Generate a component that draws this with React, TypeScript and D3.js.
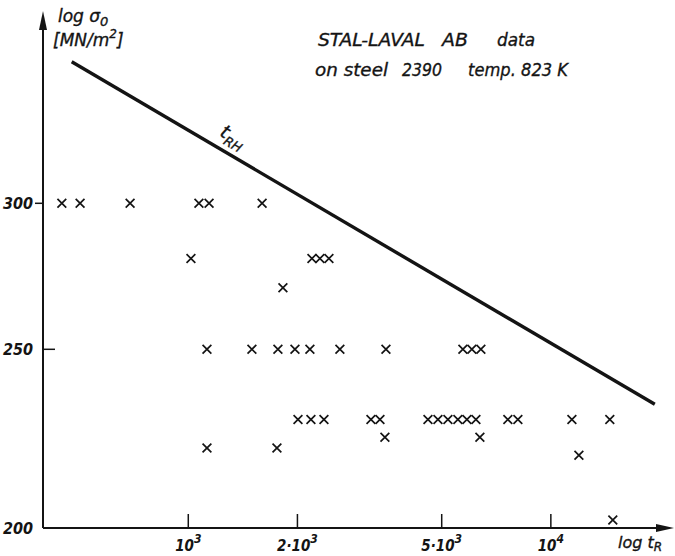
import React from 'react';
import * as d3 from 'd3';

// rupture times [h] per stress level [MN/m2]
const stress = [300, 280, 270, 250, 229, 224, 221, 219, 202];
const times300 = [448, 503, 691, 1070, 1141, 1598];
const times280 = [1017, 2193, 2307, 2443];
const times270 = [1824];
const times250 = [1126, 1498, 1767, 1969, 2165, 2619, 3509, 5720, 6055, 6412];
const times229 = [2007, 2179, 2367, 3190, 3378, 4582, 4882, 5201, 5541, 5868, 6213, 7610, 8110, 11430, 14540];
const times224 = [3486, 6372];
const times221 = [1126, 1756];
const times219 = [11950];
const times202 = [14820];
const timeRows = [times300, times280, times270, times250, times229, times224, times221, times219, times202];

// t_RH line end points
const lineTimes = [477, 19350];
const lineStress = [358, 233.4];

const yTicks = [300, 250, 200];
const xTicks = [1000, 2000, 5000, 10000];
const xTickLabels = [
  { pre: '', exp: '3' },
  { pre: '2·', exp: '3' },
  { pre: '5·', exp: '3' },
  { pre: '', exp: '4' },
];

// header words with their measured widths
const header1 = [
  { text: 'STAL-LAVAL', x: 318, w: 107 },
  { text: 'AB', x: 442, w: 26 },
  { text: 'data', x: 497, w: 38 },
];
const header2 = [
  { text: 'on steel', x: 315, w: 73 },
  { text: '2390', x: 402, w: 40 },
  { text: 'temp. 823 K', x: 468, w: 100 },
];

const W = 675;
const H = 556;
const ink = '#141414';
const fontC = '"DejaVu Sans Condensed", "DejaVu Sans", sans-serif';
const font = '"DejaVu Sans", sans-serif';

const App = () => {
  const x = d3.scaleLog().domain([400, 20000]).range([44, 660]);
  const y = d3.scaleLog().domain([200, 380]).range([528, 14]);
  const x0 = 43;
  const y0 = y(200);

  const points = timeRows.flatMap((row, i) => row.map(t => ({ t, s: stress[i] })));
  const line = d3.line<number>().x((_, i) => x(lineTimes[i])).y((_, i) => y(lineStress[i]));

  // angle of the t_RH line for its label
  const ang = (Math.atan2(y(lineStress[1]) - y(lineStress[0]), x(lineTimes[1]) - x(lineTimes[0])) * 180) / Math.PI;
  const labT = 1190;
  const labS = Math.exp(Math.log(lineStress[0]) + (Math.log(labT / lineTimes[0]) / Math.log(lineTimes[1] / lineTimes[0])) * Math.log(lineStress[1] / lineStress[0]));

  const txtC = { fontFamily: fontC, fontStyle: 'oblique', fill: ink };
  const txt = { fontFamily: font, fontStyle: 'oblique', fill: ink, stroke: ink, strokeWidth: 0.35 };

  return (
    <svg width={W} height={H} style={{ position: 'absolute', left: 0, top: 0, background: '#fff' }}>
      {/* axes */}
      <line x1={x0} y1={y0} x2={x0} y2={24} stroke={ink} strokeWidth={2} />
      <path d={`M${x0},11 L${x0 - 4},30 L${x0 + 4},30 Z`} fill={ink} />
      <line x1={x0} y1={y0} x2={660} y2={y0} stroke={ink} strokeWidth={2} />
      <path d={`M674,${y0} L656,${y0 - 4} L656,${y0 + 4} Z`} fill={ink} />

      {/* y ticks */}
      {yTicks.map(v => (
        <g key={v}>
          {v === 300 && <line x1={x0 - 8} x2={x0} y1={y(v)} y2={y(v)} stroke={ink} strokeWidth={1.5} />}
          {v === 250 && <line x1={x0} x2={x0 + 12} y1={y(v)} y2={y(v)} stroke={ink} strokeWidth={1.5} />}
          <text x={33} y={y(v) + 6} textAnchor="end" fontSize={16} fontWeight="bold" {...txtC}>{v}</text>
        </g>
      ))}

      {/* x ticks */}
      {xTicks.map((v, i) => (
        <g key={v}>
          <line x1={x(v)} x2={x(v)} y1={y0} y2={y0 - 14} stroke={ink} strokeWidth={1.5} />
          <text x={x(v)} y={y0 + 23} textAnchor="middle" fontSize={15} fontWeight="bold" {...txtC}>
            {xTickLabels[i].pre}10
            <tspan dy={-8} fontSize={12}>{xTickLabels[i].exp}</tspan>
          </text>
        </g>
      ))}

      {/* axis titles */}
      <text x={58} y={22} fontSize={17} {...txt}>
        log σ<tspan dy={4} fontSize={13}>0</tspan>
      </text>
      <text x={53} y={46} fontSize={17} {...txt}>
        [MN/m<tspan dy={-8} fontSize={12}>2</tspan><tspan dy={8}>]</tspan>
      </text>
      <text x={618} y={548} fontSize={16} {...txt}>
        log t<tspan dy={3} fontSize={12}>R</tspan>
      </text>

      {/* header */}
      {header1.map(h => (
        <text key={h.text} x={h.x} y={46} fontSize={18} textLength={h.w} lengthAdjust="spacingAndGlyphs" {...txt}>{h.text}</text>
      ))}
      {header2.map(h => (
        <text key={h.text} x={h.x} y={76} fontSize={18} textLength={h.w} lengthAdjust="spacingAndGlyphs" {...txt}>{h.text}</text>
      ))}

      {/* t_RH line */}
      <path d={line([0, 1]) ?? ''} fill="none" stroke={ink} strokeWidth={3.4} />
      <text transform={`translate(${x(labT) + 3},${y(labS) - 11}) rotate(${ang})`} fontSize={19} {...txt}>
        t<tspan dy={5} fontSize={13}>RH</tspan>
      </text>

      {/* data */}
      {points.map((p, i) => {
        const cx = x(p.t);
        const cy = y(p.s);
        const r = 4.4;
        return (
          <path
            key={i}
            d={`M${cx - r},${cy - r}L${cx + r},${cy + r}M${cx - r},${cy + r}L${cx + r},${cy - r}`}
            stroke={ink}
            strokeWidth={1.7}
            fill="none"
          />
        );
      })}
    </svg>
  );
};

export default App;
